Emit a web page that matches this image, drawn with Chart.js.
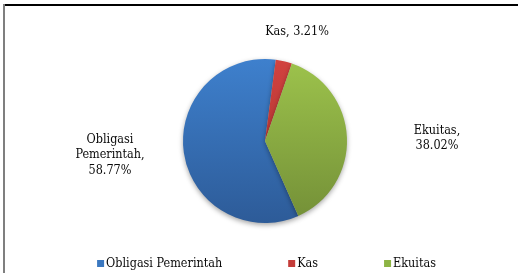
<!DOCTYPE html>
<html>
<head>
<meta charset="utf-8">
<script src="https://cdn.jsdelivr.net/npm/chart.js@4/dist/chart.umd.min.js"></script>
<style>
  html, body { margin: 0; padding: 0; background: #fff; overflow: hidden; }
  #wrap { position: relative; width: 518px; height: 273px; }
  #topline { position: absolute; left: 3px; top: 4px; width: 515px; height: 2px; background: #000; }
  #leftline { position: absolute; left: 3px; top: 4px; width: 2px; height: 269px; background: #7f7f7f; }
  canvas { position: absolute; left: 0; top: 0; }
</style>
</head>
<body>
<div id="wrap">
  <canvas id="c" width="518" height="273"></canvas>
  <div id="topline"></div>
  <div id="leftline"></div>
</div>
<script>
const categories = ['Obligasi Pemerintah', 'Kas', 'Ekuitas'];
const shares = [58.77, 3.21, 38.02];
const valueLabels = ['58.77%', '3.21%', '38.02%'];

const FONT = '"DejaVu Serif Condensed", "DejaVu Serif", "Liberation Serif", serif';
const gradStops = [
  ['#3E80CD', '#2D5B98'],
  ['#D2423F', '#9E2F2C'],
  ['#9DC34C', '#738F37']
];
const legendSwatch = ['#3B78C0', '#C43C39', '#8DB444'];

function sliceColor(ctx) {
  const chart = ctx.chart;
  const a = chart.chartArea;
  if (!a) return gradStops[ctx.dataIndex][0];
  const cy = (a.top + a.bottom) / 2;
  const r = Math.min(a.right - a.left, a.bottom - a.top) / 2;
  const g = chart.ctx.createLinearGradient(0, cy - r, 0, cy + r);
  g.addColorStop(0, gradStops[ctx.dataIndex][0]);
  g.addColorStop(1, gradStops[ctx.dataIndex][1]);
  return g;
}

const shadowPlugin = {
  id: 'shadowPlugin',
  beforeDatasetsDraw(chart) {
    const c = chart.ctx;
    c.save();
    c.shadowColor = 'rgba(0,0,0,0.35)';
    c.shadowBlur = 5;
    c.shadowOffsetY = 2;
  },
  afterDatasetsDraw(chart) {
    chart.ctx.restore();
  }
};

// label placement: offset of label centre from the pie centre
const labelCfg = [
  { dx: -155, dy: 14, lines: (c, v) => ['Obligasi', 'Pemerintah,', v] },
  { dx: 32, dy: -109, lines: (c, v) => [c + ', ' + v] },
  { dx: 172, dy: -3, lines: (c, v) => [c + ',', v] }
];

const labelPlugin = {
  id: 'labelPlugin',
  afterDraw(chart) {
    const c = chart.ctx;
    const meta = chart.getDatasetMeta(0);
    c.save();
    c.fillStyle = '#0a0a0a';
    c.font = '12.5px ' + FONT;
    c.textBaseline = 'middle';
    c.textAlign = 'center';
    meta.data.forEach((arc, i) => {
      const x = arc.x + labelCfg[i].dx;
      const y = arc.y + labelCfg[i].dy;
      const lines = labelCfg[i].lines(categories[i], valueLabels[i]);
      const lh = 15.5;
      const y0 = y - (lines.length - 1) * lh / 2;
      lines.forEach((t, j) => c.fillText(t, x, y0 + j * lh));
    });
    c.restore();
  }
};

const legendPlugin = {
  id: 'legendPlugin',
  afterDraw(chart) {
    const c = chart.ctx;
    c.save();
    c.font = '12.5px ' + FONT;
    c.textBaseline = 'middle';
    c.textAlign = 'left';
    const box = 7, gapBoxText = 2, gapItems = 66;
    const widths = categories.map(t => box + gapBoxText + c.measureText(t).width);
    const total = widths.reduce((a, b) => a + b, 0) + gapItems * (categories.length - 1);
    let x = 266.5 - total / 2;
    const y = 264;
    categories.forEach((t, i) => {
      c.fillStyle = legendSwatch[i];
      c.fillRect(x, y - 4, box, box);
      c.fillStyle = '#0a0a0a';
      c.fillText(t, x + box + gapBoxText, y);
      x += widths[i] + gapItems;
    });
    c.restore();
  }
};

new Chart(document.getElementById('c'), {
  type: 'pie',
  data: {
    labels: categories,
    datasets: [{
      data: shares,
      backgroundColor: sliceColor,
      borderWidth: 0
    }]
  },
  options: {
    responsive: false,
    animation: false,
    rotation: 156,
    layout: { padding: { top: 59, bottom: 50, left: 100, right: 88 } },
    plugins: {
      legend: { display: false },
      tooltip: { enabled: false }
    }
  },
  plugins: [shadowPlugin, labelPlugin, legendPlugin]
});
</script>
</body>
</html>
